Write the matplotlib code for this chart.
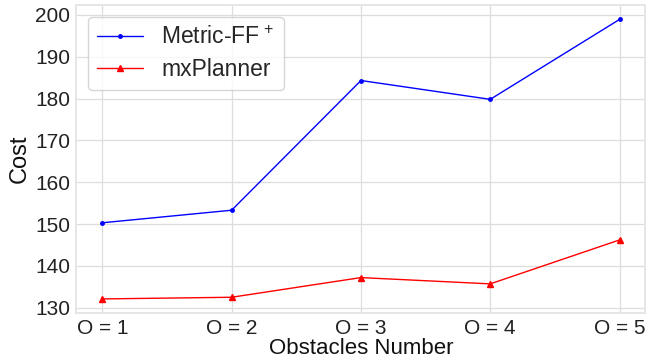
import matplotlib
matplotlib.use("Agg")
import matplotlib.pyplot as plt
import seaborn as sns

# Data
obstacles = ["O = 1", "O = 2", "O = 3", "O = 4", "O = 5"]
positions = [1, 2, 3, 4, 5]
metric_ff = [150.3, 153.3, 184.3, 179.8, 198.9]
mxplanner = [132.1, 132.5, 137.2, 135.7, 146.2]

sns.set_style("whitegrid")
plt.rcParams['font.family'] = ['Liberation Sans', 'DejaVu Sans']
plt.rcParams['mathtext.fontset'] = 'custom'
plt.rcParams['mathtext.rm'] = 'Liberation Sans'
plt.rcParams['mathtext.it'] = 'Liberation Sans'


def main():
    fig, ax = plt.subplots(figsize=(6.48, 3.63), dpi=100)
    ax.plot(positions, metric_ff, color="blue", marker=".", markersize=5,
            linewidth=1, label="Metric-FF$^{\\,+}$")
    ax.plot(positions, mxplanner, color="red", marker="^", markersize=5,
            linewidth=1, label="mxPlanner")

    ax.set_xticks(positions)
    ax.set_xticklabels(obstacles)
    ax.tick_params(axis="both", labelsize=15, pad=1, labelcolor="#222222")
    ax.set_xlabel("Obstacles Number", fontsize=16, labelpad=0, color="#111111")
    ax.set_ylabel("Cost", fontsize=17, labelpad=3, color="#111111")
    ax.set_yticks([130, 140, 150, 160, 170, 180, 190, 200])

    ax.grid(color="#dddddd", linewidth=0.9)
    for spine in ax.spines.values():
        spine.set_color("#e6e6e6")
        spine.set_linewidth(1.4)

    ax.legend(loc="upper left", fontsize=16.5, handlelength=2.0,
              handletextpad=0.8, labelspacing=0.4)

    fig.subplots_adjust(left=0.118, right=0.996, top=0.985, bottom=0.138)
    fig.savefig("out.png", dpi=100)


if __name__ == "__main__":
    main()
